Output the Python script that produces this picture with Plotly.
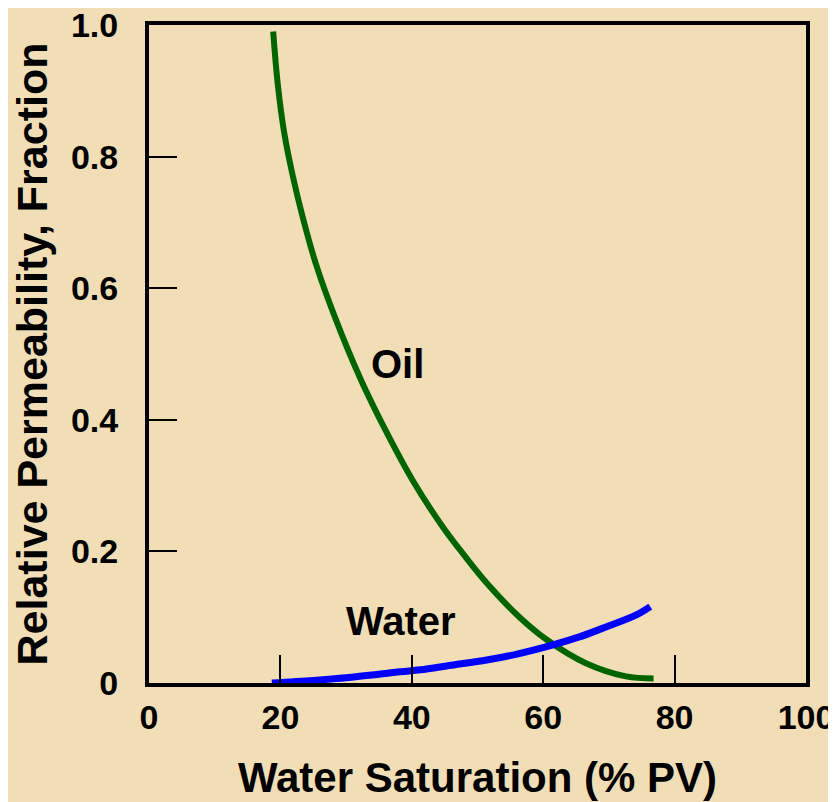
import plotly.graph_objects as go

# Data
oil_sw = [18.9, 19.6, 20.6, 21.9, 23.4, 25.4, 28.3, 32.2, 35.8, 40.3, 44.8, 47.6, 51.4, 56.4, 60.5, 66.5, 72.6, 76.8]
oil_kr = [0.99, 0.91, 0.835, 0.77, 0.708, 0.637, 0.556, 0.462, 0.388, 0.305, 0.236, 0.199, 0.152, 0.100, 0.066, 0.030, 0.010, 0.007]

water_sw = [18.7, 25.0, 30.0, 38.3, 41.3, 46.0, 51.4, 56.0, 61.5, 65.5, 69.0, 74.1, 76.3]
water_kr = [0.0, 0.004, 0.008, 0.017, 0.020, 0.027, 0.035, 0.044, 0.058, 0.070, 0.083, 0.103, 0.116]

x_ticks = [0, 20, 40, 60, 80, 100]
x_tick_text = ["0", "20", "40", "60", "80", "100"]
y_ticks = [0, 0.2, 0.4, 0.6, 0.8, 1.0]
y_tick_text = ["0", "0.2", "0.4", "0.6", "0.8", "1.0"]

BG = "#F1DEB7"
FONT = "Liberation Sans, Arial, sans-serif"

fig = go.Figure()
fig.add_trace(go.Scatter(x=oil_sw, y=oil_kr, mode="lines",
                         line=dict(color="#006400", width=6, shape="spline", smoothing=1.0),
                         name="Oil", showlegend=False))
fig.add_trace(go.Scatter(x=water_sw, y=water_kr, mode="lines",
                         line=dict(color="#0000FF", width=7, shape="spline", smoothing=1.0),
                         name="Water", showlegend=False))

fig.add_annotation(x=37.8, y=0.485, text="<b>Oil</b>", showarrow=False,
                   font=dict(family=FONT, size=40, color="black"))
fig.add_annotation(x=38.4, y=0.094, text="<b>Water</b>", showarrow=False,
                   font=dict(family=FONT, size=40, color="black"))

fig.update_layout(
    width=836, height=802,
    margin=dict(l=141, r=38, t=17, b=127, autoexpand=False),
    paper_bgcolor=BG, plot_bgcolor=BG,
    font=dict(family=FONT, color="black"),
)
fig.update_xaxes(
    range=[0, 100], tickvals=x_ticks, ticktext=x_tick_text,
    showgrid=False, zeroline=False, automargin=False,
    showline=True, linecolor="black", linewidth=4, mirror=True,
    ticks="inside", ticklen=28, tickwidth=2, tickcolor="black",
    tickfont=dict(family=FONT, size=34, color="black", weight="bold"),
    ticklabelstandoff=1, ticklabeloverflow="allow",
    title=dict(text="<b>Water Saturation (% PV)</b>",
               font=dict(family=FONT, size=42, color="black"), standoff=29),
)
fig.update_yaxes(
    range=[0, 1.0], tickvals=y_ticks, ticktext=y_tick_text,
    showgrid=False, zeroline=False, automargin=False,
    showline=True, linecolor="black", linewidth=4, mirror=True,
    ticks="inside", ticklen=28, tickwidth=2, tickcolor="black",
    tickfont=dict(family=FONT, size=34, color="black", weight="bold"),
    ticklabelstandoff=20, ticklabeloverflow="allow",
    title=dict(text="<b>Relative Permeability, Fraction</b>",
               font=dict(family=FONT, size=43, color="black"), standoff=28),
)

fig.write_html("out.html")
